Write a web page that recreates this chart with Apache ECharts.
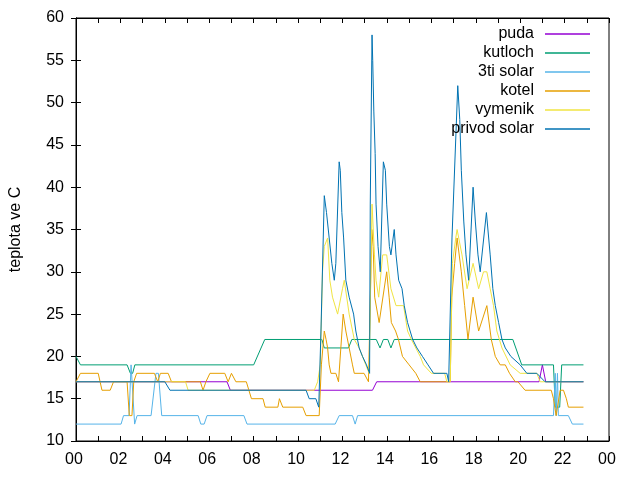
<!DOCTYPE html>
<html>
<head>
<meta charset="utf-8">
<script src="https://cdn.jsdelivr.net/npm/echarts@6/dist/echarts.min.js"></script>
<style>
  html, body { margin: 0; padding: 0; background: #fff; }
  #chart { width: 640px; height: 480px; }
</style>
</head>
<body>
<div id="chart"></div>
<script>
// values: [hour of day, temperature C]
const seriesNames = ['puda', 'kutloch', '3ti solar', 'kotel', 'vymenik', 'privod solar'];
const seriesColors = ['#9400d3', '#009e73', '#56b4e9', '#e69f00', '#f0e442', '#0072b2'];

const puda = [[0,17],[6.8,17],[6.95,16],[13.35,16],[13.54,17],[20.85,17],[21.0,19],[21.15,17],[22.85,17]];

const kutloch = [[0,20],[0.2,19],[2.3,19],[2.45,18],[2.55,18],[2.65,19],[8.0,19],[8.5,22],[11.07,22],[11.18,21],
  [12.27,21],[12.42,22],[13.52,22],[13.69,21],[13.84,22],[14.04,22],[14.18,21],[14.33,22],[19.67,22],[20.07,19],
  [21.5,19],[21.58,14],[21.78,14],[21.87,19],[22.85,19]];

const tretiSolar = [[0,12],[2.03,12],[2.14,13],[2.39,13],[2.48,19],[2.54,19],[2.64,12],[2.75,13],[3.38,13],[3.6,18],
  [3.71,18],[3.86,13],[5.5,13],[5.62,12],[5.77,12],[5.9,13],[7.56,13],[7.7,12],[11.67,12],[11.85,13],[12.45,13],
  [12.57,12],[12.68,13],[21.5,13],[21.58,18],[21.62,13],[21.68,18],[21.72,13],[22.17,13],[22.35,12],[22.85,12]];

const kotel = [[0,17],[0.2,18],[1.0,18],[1.17,16],[1.54,16],[1.69,17],[2.3,17],[2.4,13],[2.52,13],[2.6,17],[2.73,18],
  [3.53,18],[3.68,17],[3.8,18],[4.15,18],[4.3,17],[5.6,17],[5.72,16],[5.85,17],[6.03,18],[6.7,18],[6.85,17],[7.0,18],
  [7.2,17],[7.67,17],[7.9,15],[8.42,15],[8.52,14],[9.09,14],[9.16,15],[9.31,14],[10.21,14],[10.36,13],[10.95,13],
  [11.05,19],[11.18,23],[11.26,22],[11.33,21],[11.4,19],[11.48,18],[11.7,18],[11.82,17],[12.03,25],[12.15,23],
  [12.3,21],[12.45,19],[12.53,18],[12.97,18],[13.17,17],[13.25,17],[13.32,35],[13.38,33],[13.45,27],[13.65,24],
  [13.99,30],[14.1,27],[14.2,24],[14.39,23],[14.52,22],[14.7,20],[15.0,19],[15.3,18],[15.5,17],[16.85,17],[16.92,27],
  [17.05,31],[17.16,34],[17.35,30],[17.5,26],[17.65,22],[17.88,27],[18.13,23],[18.5,26],[18.7,22],[18.88,20],
  [19.1,19],[19.33,19],[19.52,18],[19.78,17],[19.9,17],[20.22,16],[21.4,16],[21.5,15],[21.62,13],[21.7,13],[21.8,16],
  [21.95,16],[22.08,15],[22.17,14],[22.85,14]];

const vymenik = [[0,17],[4.93,17],[5.05,16],[10.73,16],[10.88,17],[11.0,19],[11.1,30],[11.18,33],[11.33,34],[11.43,29],
  [11.55,27],[11.78,25],[12.0,28],[12.08,29],[12.3,25],[12.53,22],[12.75,21],[13.05,19],[13.2,18],[13.25,18],[13.33,38],
  [13.44,32],[13.51,29],[13.63,27],[13.81,32],[13.99,32],[14.18,28],[14.41,26],[14.75,26],[14.93,23],[15.1,22],
  [15.5,20],[15.65,19],[16.0,18],[16.6,18],[16.7,17],[16.85,17],[16.95,31],[17.1,34],[17.16,35],[17.38,32],[17.61,28],
  [17.88,31],[18.13,28],[18.35,30],[18.5,30],[18.65,28],[18.8,26],[18.95,23],[19.18,21],[19.55,19],[20.0,18],
  [20.75,18],[20.9,17],[22.85,17]];

const privodSolar = [[0,17],[4.0,17],[4.23,16],[10.36,16],[10.5,15],[10.8,15],[10.93,14],[10.98,14],[11.03,23],[11.18,39],
  [11.28,37],[11.4,34],[11.52,31],[11.63,29],[11.7,31],[11.85,43],[11.9,42],[11.97,37],[12.05,34],[12.15,29],[12.3,27],
  [12.5,25],[12.6,23],[12.75,21],[12.9,20],[13.08,19],[13.22,18],[13.25,38],[13.33,58],[13.36,55],[13.41,49],[13.47,44],
  [13.51,38],[13.6,33],[13.7,30],[13.84,43],[13.93,42],[13.99,38],[14.11,33],[14.18,32],[14.33,35],[14.41,32],
  [14.53,29],[14.68,28],[14.78,26],[14.93,24],[15.16,22],[15.35,21],[15.6,20],[15.85,19],[16.1,18],[16.7,18],
  [16.78,17],[16.86,17],[16.93,34],[17.19,52],[17.28,48],[17.35,42],[17.46,36],[17.56,32],[17.68,29],[17.88,40],
  [17.98,36],[18.1,32],[18.2,30],[18.48,37],[18.65,32],[18.77,28],[18.88,26],[19.03,24],[19.18,22],[19.33,21],
  [19.58,20],[20.0,19],[20.3,18],[20.75,18],[21.12,17],[22.85,17]];

const seriesData = [puda, kutloch, tretiSolar, kotel, vymenik, privodSolar];

const font = "'Liberation Sans', Arial, sans-serif";
const hourLabel = (v) => (v % 2 === 0 ? String(v % 24).padStart(2, '0') : '');

const myChart = echarts.init(document.getElementById('chart'));

const tick = { show: true, inside: true, length: 5, lineStyle: { color: '#000', width: 1 } };
const axisLine = { show: true, lineStyle: { color: '#000', width: 1 } };

const option = {
  animation: false,
  backgroundColor: '#fff',
  grid: { left: 74, right: 31, top: 18, bottom: 39, show: true, borderColor: '#000', borderWidth: 1 },
  legend: {
    orient: 'vertical',
    right: 45,
    top: 21,
    align: 'right',
    icon: 'rect',
    itemWidth: 45,
    itemHeight: 1.5,
    itemGap: 3,
    textStyle: { fontFamily: font, fontSize: 16, color: '#000', padding: [0, 6, 0, 0] },
    data: seriesNames
  },
  xAxis: [
    {
      type: 'value', min: 0, max: 24, interval: 1,
      axisLine, axisTick: tick, splitLine: { show: false },
      axisLabel: { formatter: hourLabel, fontFamily: font, fontSize: 16, color: '#000', margin: 11, padding: [0, 4, 0, 0] }
    },
    {
      type: 'value', position: 'top', min: 0, max: 24, interval: 1,
      axisLine, axisTick: tick, splitLine: { show: false }, axisLabel: { show: false }
    }
  ],
  yAxis: [
    {
      type: 'value', min: 10, max: 60, interval: 5,
      name: 'teplota ve C', nameLocation: 'middle', nameRotate: 90, nameGap: 52,
      nameTextStyle: { fontFamily: font, fontSize: 16, color: '#000' },
      axisLine, axisTick: tick, splitLine: { show: false },
      axisLabel: { fontFamily: font, fontSize: 16, color: '#000', margin: 12 }
    },
    {
      type: 'value', position: 'right', min: 10, max: 60, interval: 5,
      axisLine, axisTick: tick, splitLine: { show: false }, axisLabel: { show: false }
    }
  ],
  series: seriesNames.map((name, i) => ({
    name,
    type: 'line',
    xAxisIndex: 0,
    yAxisIndex: 0,
    symbol: 'none',
    color: seriesColors[i],
    lineStyle: { width: 1, color: seriesColors[i] },
    data: seriesData[i]
  }))
};

myChart.setOption(option);
</script>
</body>
</html>
